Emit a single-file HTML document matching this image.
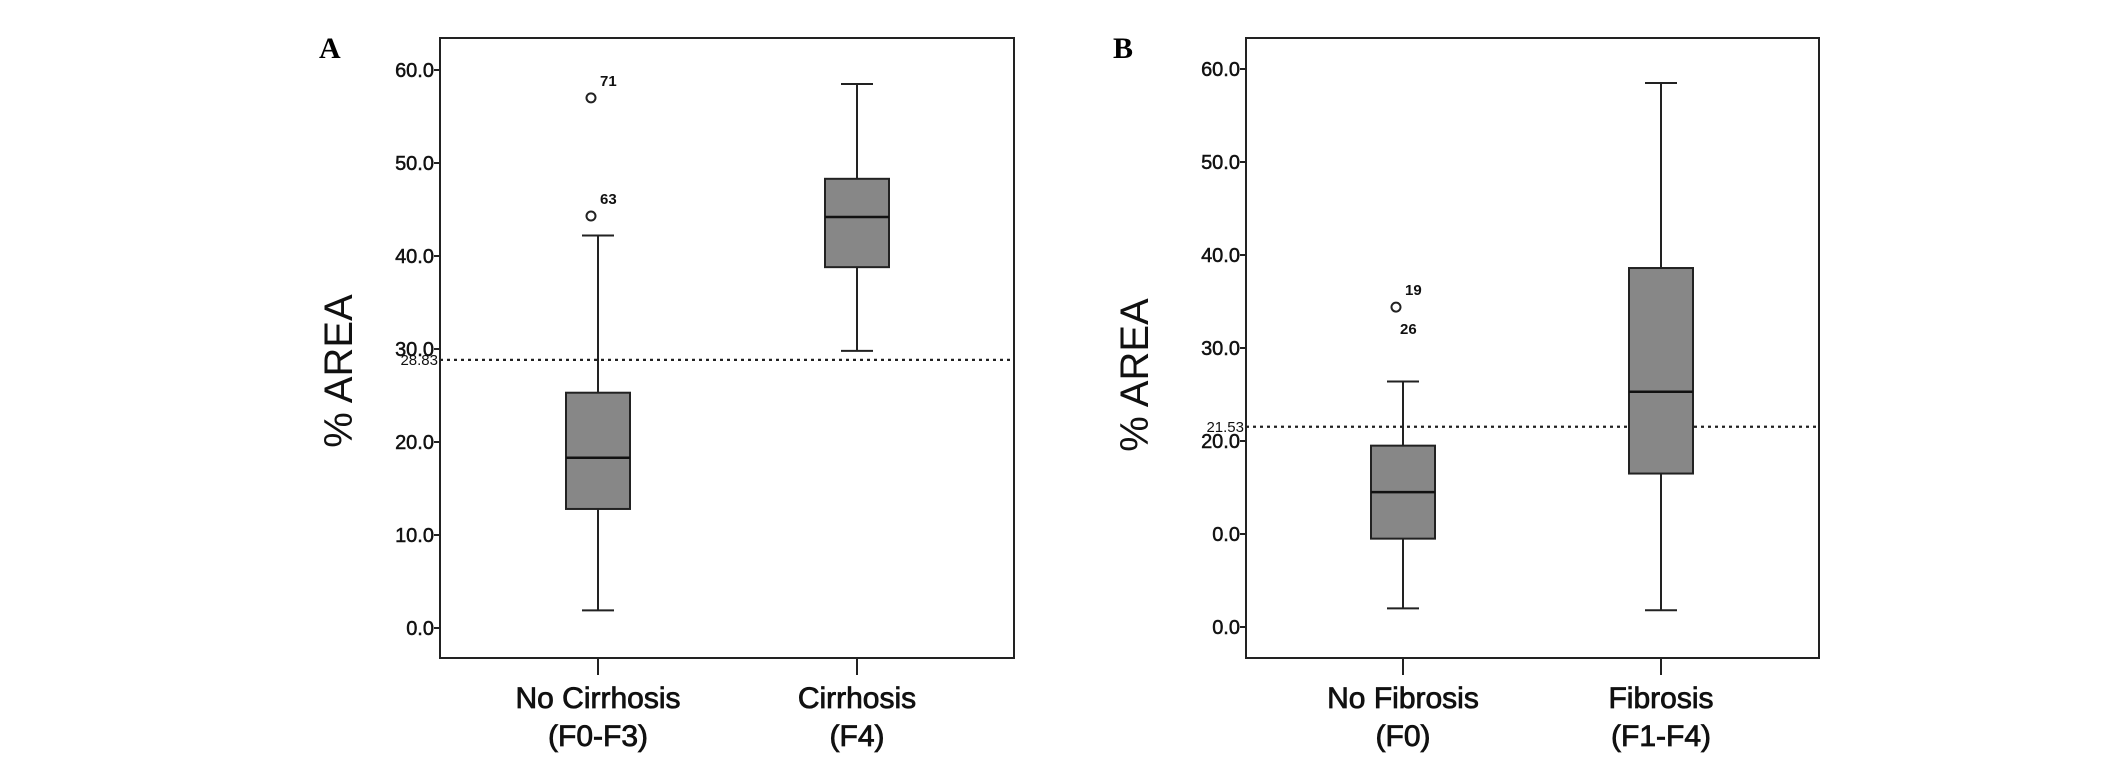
<!DOCTYPE html>
<html><head><meta charset="utf-8"><style>
html,body{margin:0;padding:0;background:#fff;}
svg{display:block;font-family:"Liberation Sans",Arial,sans-serif;}
</style></head><body>
<svg id="chart" width="2126" height="760" viewBox="0 0 2126 760"></svg>
<script>
// Panel A data
const catsA = ["No Cirrhosis|(F0-F3)", "Cirrhosis|(F4)"];
const lowA = [1.9, 29.8];
const q1A = [12.8, 38.8];
const medA = [18.3, 44.2];
const q3A = [25.3, 48.3];
const highA = [42.2, 58.5];
const outValsA = [57.0, 44.3];
const outCatA = [0, 0];
const outLblA = ["71", "63"];
const cutA = 28.83;
const tickValsA = [0, 10, 20, 30, 40, 50, 60];
const tickLblA = ["0.0", "10.0", "20.0", "30.0", "40.0", "50.0", "60.0"];
// Panel B data
const catsB = ["No Fibrosis|(F0)", "Fibrosis|(F1-F4)"];
const lowB = [2.0, 1.8];
const q1B = [9.5, 16.5];
const medB = [14.5, 25.3];
const q3B = [19.5, 38.6];
const highB = [26.4, 58.5];
const outValsB = [34.4];
const outCatB = [0];
const outLblB = ["19|26"];
const cutB = 21.53;
const tickValsB = [0, 10, 20, 30, 40, 50, 60];
const tickLblB = ["0.0", "0.0", "20.0", "30.0", "40.0", "50.0", "60.0"];

const NS = "http://www.w3.org/2000/svg";
const svg = document.getElementById("chart");
function mk(tag, attrs, parent, text) {
  const e = document.createElementNS(NS, tag);
  for (const k in attrs) e.setAttribute(k, attrs[k]);
  if (text !== undefined) e.textContent = text;
  (parent || svg).appendChild(e);
  return e;
}

function panel(cfg) {
  const g = mk("g", {});
  
  
  const L = cfg.left, R = cfg.right, T = 38, B = 658;
  const y = v => cfg.y0 - v * 9.3;
  const xs = cfg.xs;
  const lt = mk("text", {x: cfg.letterX, y: 58, "font-family": "Liberation Serif,serif", "font-weight": "bold", "font-size": 30, fill: "#000"}, g, cfg.letter);
  
  
  const fr = mk("rect", {x: L, y: T, width: R - L, height: B - T, fill: "none", stroke: "#222", "stroke-width": 2}, g);
  
  
  cfg.tickVals.forEach((v, i) => {
    const ty = y(v);
    const tk = mk("line", {x1: L - 6, x2: L, y1: ty, y2: ty, stroke: "#222", "stroke-width": 2}, g);
    
    
    const tl = mk("text", {x: L - 6, y: ty + 7, "text-anchor": "end", "font-size": 20, fill: "#111", stroke: "#111", "stroke-width": 0.5}, g, cfg.tickLbl[i]);
    
    
  });
  const yt = mk("text", {x: 0, y: 0, transform: `translate(${cfg.titleX},${cfg.titleY}) rotate(-90)`, "text-anchor": "middle", "font-size": 40, fill: "#111"}, g, "% AREA");
  
  
  const cy = y(cfg.cut);
  const cl = mk("line", {x1: L, x2: R, y1: cy, y2: cy, stroke: "#222", "stroke-width": 2.2, "stroke-dasharray": "3 4"}, g);
  
  
  const ct = mk("text", {x: L - 2, y: cy + 5, "text-anchor": "end", "font-size": 15, fill: "#111"}, g, cfg.cut.toFixed(2));
  
  
  cfg.cats.forEach((c, i) => {
    const x = xs[i], hw = 32, cw = 16;
    const bg = mk("g", {}, g);
    
    
    mk("line", {x1: x, x2: x, y1: y(cfg.high[i]), y2: y(cfg.q3[i]), stroke: "#222", "stroke-width": 2}, bg);
    mk("line", {x1: x, x2: x, y1: y(cfg.q1[i]), y2: y(cfg.low[i]), stroke: "#222", "stroke-width": 2}, bg);
    mk("line", {x1: x - cw, x2: x + cw, y1: y(cfg.high[i]), y2: y(cfg.high[i]), stroke: "#222", "stroke-width": 2}, bg);
    mk("line", {x1: x - cw, x2: x + cw, y1: y(cfg.low[i]), y2: y(cfg.low[i]), stroke: "#222", "stroke-width": 2}, bg);
    mk("rect", {x: x - hw, y: y(cfg.q3[i]), width: 2 * hw, height: y(cfg.q1[i]) - y(cfg.q3[i]), fill: "#878787", stroke: "#222", "stroke-width": 2}, bg);
    mk("line", {x1: x - hw, x2: x + hw, y1: y(cfg.med[i]), y2: y(cfg.med[i]), stroke: "#111", "stroke-width": 2.5}, bg);
    const xt = mk("line", {x1: x, x2: x, y1: B, y2: B + 17, stroke: "#222", "stroke-width": 2}, g);
    
    
    const parts = c.split("|");
    const xl = mk("text", {x: x, y: 708, "text-anchor": "middle", "font-size": 30, fill: "#111", stroke: "#111", "stroke-width": 0.8}, g);
    
    
    mk("tspan", {x: x, dy: 0}, xl, parts[0]);
    mk("tspan", {x: x, dy: 38}, xl, parts[1]);
  });
  cfg.outVals.forEach((v, i) => {
    const x = xs[cfg.outCat[i]] - 7, oy = y(v);
    const o = mk("circle", {cx: x, cy: oy, r: 4.5, fill: "#fff", stroke: "#222", "stroke-width": 2}, g);
    
    
    const lbl = cfg.outLbl[i].split("|");
    const t1 = mk("text", {x: x + 9, y: oy - 12, "font-size": 15, "font-weight": "bold", fill: "#111"}, g, lbl[0]);
    
    
    if (lbl[1]) {
      const t2 = mk("text", {x: x + 4, y: oy + 27, "font-size": 15, "font-weight": "bold", fill: "#111"}, g, lbl[1]);
      
      
    }
  });
}

panel({name: "panel-a", letter: "A", letterX: 319, left: 440, right: 1014, y0: 628, xs: [598, 857],
  cats: catsA, low: lowA, q1: q1A, med: medA, q3: q3A, high: highA,
  outVals: outValsA, outCat: outCatA, outLbl: outLblA, cut: cutA,
  tickVals: tickValsA, tickLbl: tickLblA, titleX: 352, titleY: 371});
panel({name: "panel-b", letter: "B", letterX: 1113, left: 1246, right: 1819, y0: 627, xs: [1403, 1661],
  cats: catsB, low: lowB, q1: q1B, med: medB, q3: q3B, high: highB,
  outVals: outValsB, outCat: outCatB, outLbl: outLblB, cut: cutB,
  tickVals: tickValsB, tickLbl: tickLblB, titleX: 1148, titleY: 375});
</script>
</body></html>
